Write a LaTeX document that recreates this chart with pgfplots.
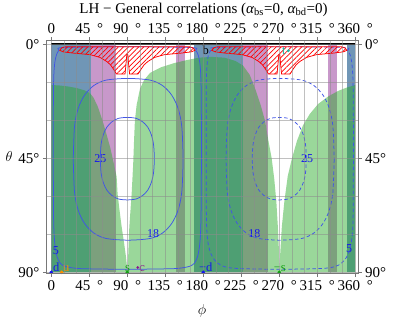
\documentclass[border=0pt]{standalone}
\usepackage{fontspec}
\setmainfont{Liberation Serif}
\usepackage{pgfplots}
\pgfplotsset{compat=1.18}
\usetikzlibrary{patterns.meta}
\definecolor{bandblue}{RGB}{112,150,182}
\definecolor{bandpurple}{RGB}{200,152,202}
\definecolor{gfill}{RGB}{40,170,40}
\definecolor{cblue}{RGB}{65,85,230}
\definecolor{gridgray}{RGB}{140,140,140}
\definecolor{framegray}{RGB}{120,120,120}
\definecolor{dblue}{RGB}{20,20,240}
\definecolor{uorange}{RGB}{255,140,0}
\definecolor{sgreen}{RGB}{20,160,20}
\definecolor{cpurple}{RGB}{140,20,140}
\definecolor{tteal}{RGB}{30,180,160}
\newcommand{\dg}{\hspace{0.45em}°}
\begin{document}
\begin{tikzpicture}[x=1pt,y=1pt]
\path[use as bounding box] (0,0) rectangle (407,318);
\pgfplotsset{
  common/.style={
    at={(46pt,44.5pt)}, anchor=south west, scale only axis,
    width=312.5pt, height=233pt,
    xmin=-6.28, xmax=363.8, ymin=-1.58, ymax=90.47, y dir=reverse,
    xtick={0,45,...,360}, ytick={0,45,90},
    tick align=outside, major tick length=3pt,
    tick style={framegray, line width=0.6pt},
    axis line style={framegray, line width=0.6pt},
    tick label style={font=\fontsize{15}{18}\selectfont},
  }
}
\begin{axis}[common,
  axis on top,
  xticklabels={0,45\dg,90\dg,135\dg,180\dg,225\dg,270\dg,315\dg,360\dg},
  yticklabels={0°,45°,90°},
  xticklabel pos=lower, yticklabel pos=lower,
  minor xtick={15,30,60,75,105,120,150,165,195,210,240,255,285,300,330,345},
  minor ytick={15,30,60,75},
  minor tick length=0pt,
  grid=both,
  major grid style={gridgray, line width=0.6pt, opacity=0.55},
  minor grid style={gridgray, line width=0.6pt, opacity=0.55},
]
% vertical bands
\addplot[fill=bandblue, draw=none] coordinates {(0,0)(47,0)(47,90)(0,90)} --cycle;
\addplot[fill=bandblue, draw=none] coordinates {(169,0)(227,0)(227,90)(169,90)} --cycle;
\addplot[fill=bandblue, draw=none] coordinates {(350,0)(360,0)(360,90)(350,90)} --cycle;
\addplot[fill=bandpurple, draw=none] coordinates {(47,0)(77,0)(77,90)(47,90)} --cycle;
\addplot[fill=bandpurple, draw=none] coordinates {(148,0)(158,0)(158,90)(148,90)} --cycle;
\addplot[fill=bandpurple, draw=none] coordinates {(227,0)(257,0)(257,90)(227,90)} --cycle;
\addplot[fill=bandpurple, draw=none] coordinates {(328,0)(338,0)(338,90)(328,90)} --cycle;
% green regions
\addplot[fill=gfill, fill opacity=0.47, draw=none] coordinates {
(0,16)(10,16.2)(20,16.6)(30,17.2)(40,18.2)(46,19.3)(50,21)(55,24.5)(60.5,29.9)(65,35)(70,41)(74,47)(77.4,52.3)(78.5,59)(81,66)(83.3,72)(86,78)(88.5,84)(89.7,88)(90,90)(0,90)} --cycle;
\addplot[fill=gfill, fill opacity=0.47, draw=none] coordinates {
(270,90)(270.3,88)(271.2,82)(273,72)(276,62)(280,52)(285,45)(291,38)(298,32)(306,27.5)(316,23.5)(328,20.5)(340,18.3)(350,17)(360,16)(360,90)} --cycle;
\addplot[fill=gfill, fill opacity=0.47, draw=none] coordinates {
(90,90)(90.3,88)(91,84)(92.4,72)(95.2,58.7)(97,47)(98,38)(99,30)(101,24)(105,17.5)(110,14)(117,11.2)(130,9)(145,7.4)(160,6.2)(175,5.2)(190,4.9)(205,5.2)(218,6.5)(227,8.3)(235,12)(242,18)(248,24)(253,30)(257,37.8)(261,45)(264,53)(266.5,62)(268.3,72)(269.4,80)(269.8,88)(270,90)} --cycle;
% contours solid
\addplot[cblue, line width=0.75pt, smooth] coordinates {
(2.4,40)(2.5,60)(2.8,70)(3.5,76)(4.8,80.5)(7,84)(10.5,86.4)(16,87.6)(26,88.3)(40,88.6)(90,88.8)(140,88.6)(154,88.3)(164,87.6)(169.5,86.4)(173,84)(175.2,80.5)(176.5,76)(177.2,70)(177.6,60)(177.8,40)(177.6,20)(177,12)(175.8,7)(173.8,4)(171,2.3)(166,1.2)(90,0.9)(14,1.2)(9,2.3)(6.2,4)(4.2,7)(3,12)(2.5,20)(2.4,40)};
\addplot[cblue, line width=0.75pt, smooth] coordinates {
(26,45.35)(27.5,58.35)(31.9,65.5)(39.4,70.7)(50,74.4)(64.5,76.6)(91,77.3)(117.5,76.6)(132,74.4)(142.6,70.7)(150.1,65.5)(154.5,58.35)(156,45.35)(154.5,32.35)(150.1,25.2)(142.6,20)(132,16.3)(117.5,14.1)(91,13.4)(64.5,14.1)(50,16.3)(39.4,20)(31.9,25.2)(27.5,32.35)(26,45.35)};
\addplot[cblue, line width=0.75pt, smooth] coordinates {
(58,45.1)(58.9,50.6)(61.5,54.5)(65.7,57.5)(71.6,59.6)(79.2,61)(90,61.4)(100.8,61)(108.4,59.6)(114.3,57.5)(118.5,54.5)(121.1,50.6)(122,45.1)(121.1,39.6)(118.5,35.7)(114.3,32.7)(108.4,30.6)(100.8,29.2)(90,28.8)(79.2,29.2)(71.6,30.6)(65.7,32.7)(61.5,35.7)(58.9,39.6)(58,45.1)};
% contours dashed
\addplot[cblue, line width=0.75pt, smooth, dash pattern=on 3.5pt off 2.5pt] coordinates {
(183.4,40)(183.5,60)(183.8,70)(184.6,75.5)(186.2,79.5)(189.2,82.8)(193.7,85.3)(200.7,87.2)(210.7,88.2)(230,88.6)(270,88.8)(310,88.6)(330,88.2)(340,87.2)(347,85.3)(351.5,82.8)(354.5,79.5)(356.3,75.5)(357.3,70)(357.6,60)(357.8,40)(357.6,20)(357,12)(355.8,7)(353.8,4)(351,2.3)(346,1.2)(270,0.9)(194,1.2)(189,2.3)(186.2,4)(184.8,7)(183.8,12)(183.5,20)(183.4,40)};
\addplot[cblue, line width=0.75pt, smooth, dash pattern=on 3.5pt off 2.5pt] coordinates {
(335,45.35)(333.5,58.35)(329.2,65.5)(321.8,70.7)(311.3,74.4)(297,76.6)(271,77.3)(245,76.6)(230.7,74.4)(220.2,70.7)(212.8,65.5)(208.5,58.35)(207,45.35)(208.5,32.35)(212.8,25.2)(220.2,20)(230.7,16.3)(245,14.1)(271,13.4)(297,14.1)(311.3,16.3)(321.8,20)(329.2,25.2)(333.5,32.35)(335,45.35)};
\addplot[cblue, line width=0.75pt, smooth, dash pattern=on 3.5pt off 2.5pt] coordinates {
(302,45.1)(301.1,39.6)(298.5,35.7)(294.3,32.7)(288.4,30.6)(280.8,29.2)(270,28.8)(259.2,29.2)(251.6,30.6)(245.7,32.7)(241.5,35.7)(238.9,39.6)(238,45.1)(238.9,50.6)(241.5,54.5)(245.7,57.5)(251.6,59.6)(259.2,61)(270,61.4)(280.8,61)(288.4,59.6)(294.3,57.5)(298.5,54.5)(301.1,50.6)(302,45.1)};
% red hatched regions
\addplot[draw=red, line width=0.75pt, pattern={Lines[angle=45,distance=3.6pt,line width=0.7pt]}, pattern color=red] coordinates {
(10,2.3)(12,1.4)(16,0.9)(164,0.9)(168,1.4)(170,2.3)(166,2.9)(154,3.4)(134.2,4.0)(122.3,5.1)(114.4,6.7)(110,8)(106.6,9.6)(104,11)(102.6,11.7)(92.7,11.7)(91.6,8)(90.6,4)(89.4,4)(88.4,8)(87.3,11.7)(77.4,11.7)(76,11)(73.4,9.6)(70,8)(65.6,6.7)(57.7,5.1)(45.8,4.0)(26,3.4)(14,2.9)} --cycle;
\addplot[draw=red, line width=0.75pt, pattern={Lines[angle=45,distance=3.6pt,line width=0.7pt]}, pattern color=red] coordinates {
(190,2.3)(192,1.4)(196,0.9)(344,0.9)(348,1.4)(350,2.3)(346,2.9)(334,3.4)(314.2,4.0)(302.3,5.1)(294.4,6.7)(290,8)(286.6,9.6)(284,11)(282.6,11.7)(272.7,11.7)(271.6,8)(270.6,4)(269.4,4)(268.4,8)(267.3,11.7)(257.4,11.7)(256,11)(253.4,9.6)(250,8)(245.6,6.7)(237.7,5.1)(225.8,4.0)(206,3.4)(194,2.9)} --cycle;
% theta = 0 line
\addplot[black, line width=2pt] coordinates {(0,0)(360,0)};
% points
\addplot[only marks, mark=*, mark size=1.6pt, dblue] coordinates {(0,90)(180,90)};
\addplot[only marks, mark=*, mark size=1.6pt, uorange] coordinates {(12.3,90)};
\addplot[only marks, mark=*, mark size=1.6pt, sgreen] coordinates {(90,90)(270,90)};
\addplot[only marks, mark=*, mark size=1.1pt, cpurple] coordinates {(102.3,88.1)};
\addplot[only marks, mark=*, mark size=1.2pt, tteal] coordinates {(280.7,2.45)};
% labels
\begin{scope}[every node/.style={font=\fontsize{12.5}{14}\selectfont, inner sep=0pt, anchor=base}]
\node[dblue] at (axis cs:5.8,89.7) {d};
\node[uorange] at (axis cs:17.7,89.7) {u};
\node[sgreen] at (axis cs:90.3,89.5) {s};
\node[cpurple] at (axis cs:107.5,89.7) {c};
\node[dblue] at (axis cs:183,89.7) {−d};
\node[sgreen] at (axis cs:270.5,89.5) {−s};
\node[black] at (axis cs:183,4.0) {b};
\node[tteal] at (axis cs:275.4,4.0) {t};
\end{scope}
\begin{scope}[every node/.style={font=\fontsize{12}{14}\selectfont, inner sep=0pt, text=dblue}]
\node at (axis cs:58,45.1) {25};
\node at (axis cs:303,45.1) {25};
\node at (axis cs:120.5,74.8) {18};
\node at (axis cs:240.5,74.8) {18};
\node at (axis cs:5.5,81.5) {5};
\node at (axis cs:352.7,80.5) {5};
\end{scope}
\end{axis}
\begin{axis}[common,
  xticklabels={0,45\dg,90\dg,135\dg,180\dg,225\dg,270\dg,315\dg,360\dg},
  yticklabels={0°,45°,90°},
  xticklabel pos=upper, yticklabel pos=upper,
]
\end{axis}
\node[font=\fontsize{15}{18}\selectfont, anchor=base] at (203.5,304.7) {LH − General correlations (\textit{α}\textsubscript{bs}=0, \textit{α}\textsubscript{bd}=0)};
\node[font=\fontsize{15}{18}\selectfont, anchor=base] at (202,3) {$\phi$};
\node[font=\fontsize{15}{18}\selectfont] at (9,161) {$\theta$};
\end{tikzpicture}
\end{document}
